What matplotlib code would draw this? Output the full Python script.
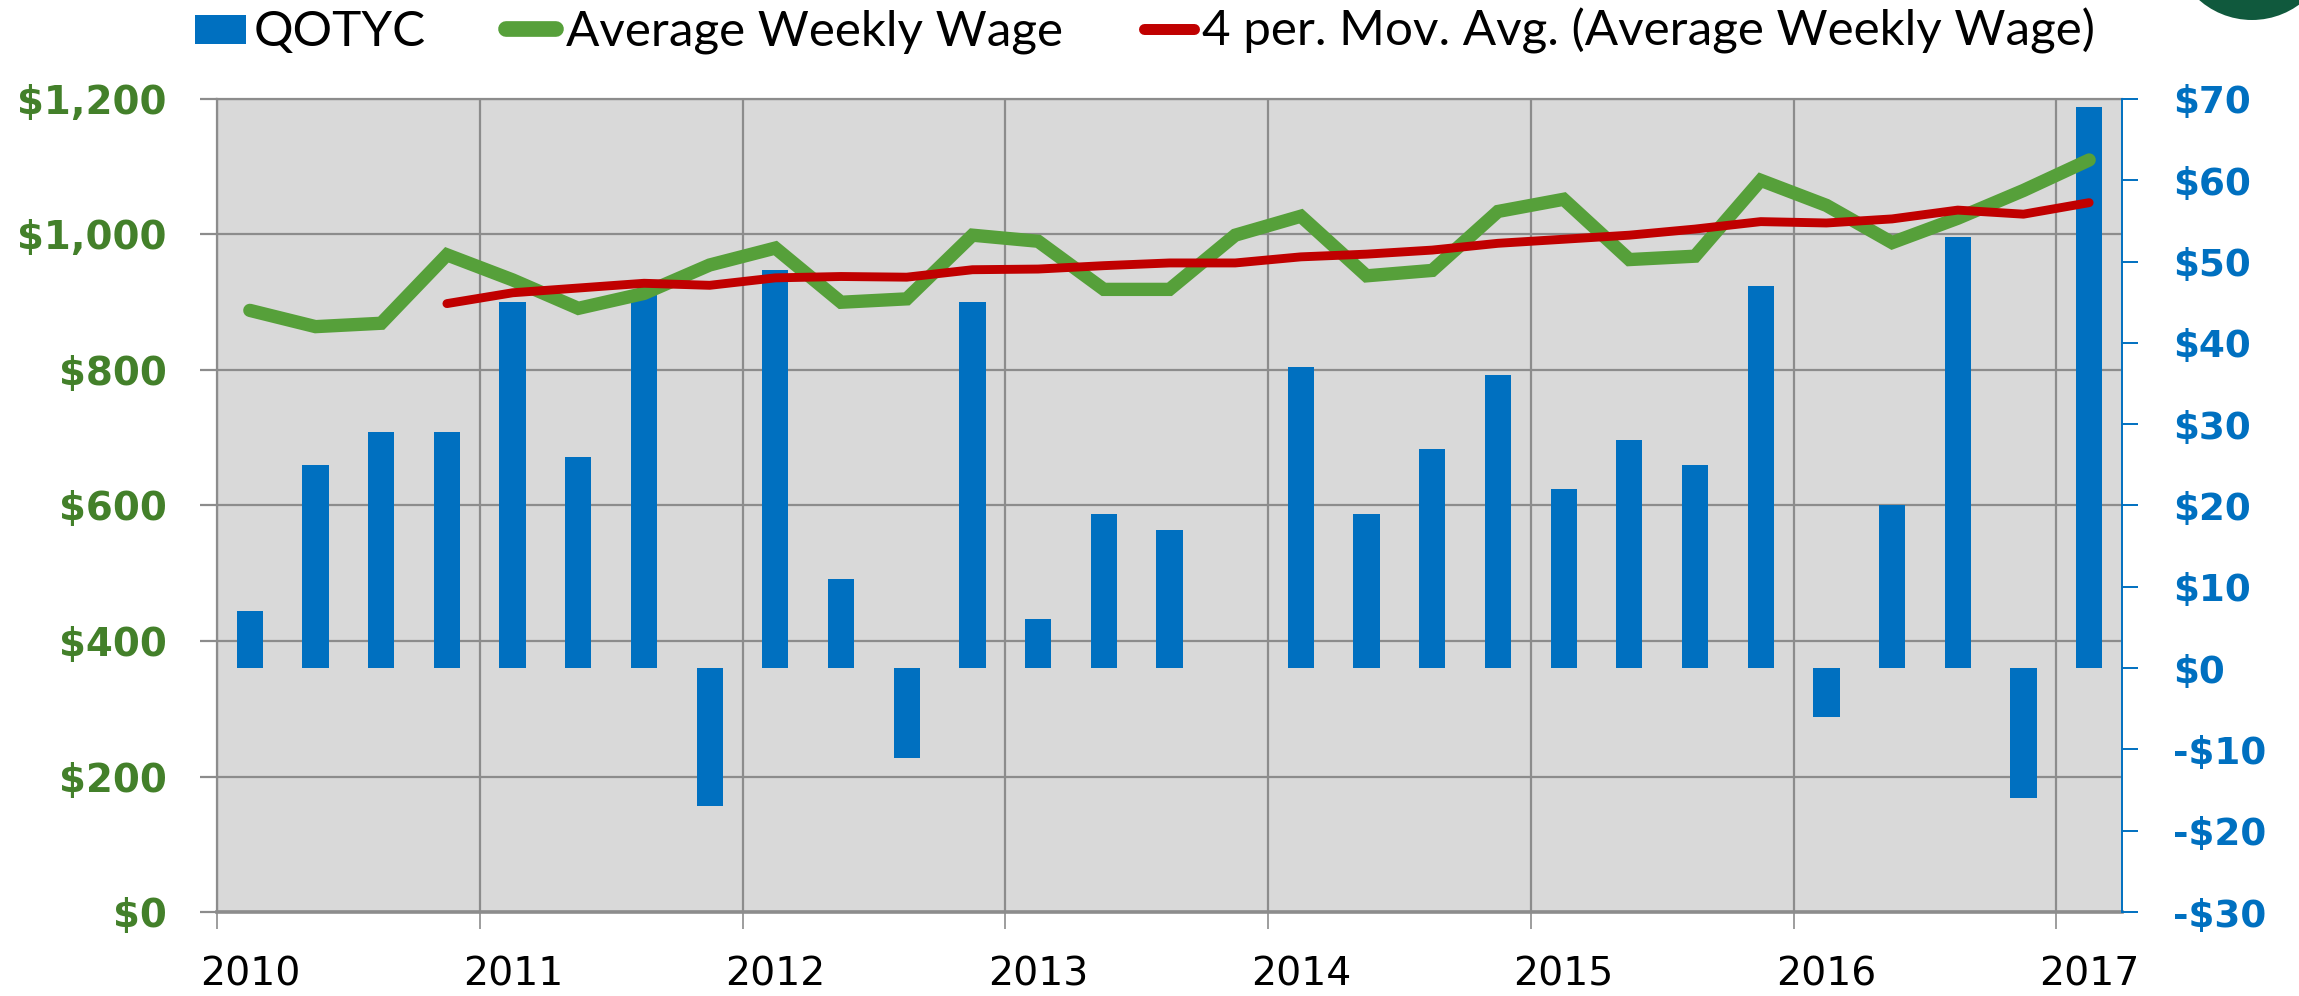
import matplotlib
matplotlib.use('Agg')
import matplotlib.pyplot as plt
from matplotlib.lines import Line2D
from matplotlib.patches import Rectangle, Ellipse
from matplotlib.transforms import ScaledTranslation
import numpy as np

plt.rcParams['text.parse_math'] = False
plt.rcParams['font.family'] = ['DejaVu Sans']

# ---------------- data ----------------
years = ['2010', '2011', '2012', '2013', '2014', '2015', '2016', '2017']
qotyc = [7, 25, 29, 29, 45, 26, 46, -17, 49, 11, -11, 45, 6, 19, 17, 0,
         37, 19, 27, 36, 22, 28, 25, 47, -6, 20, 53, -16, 69]
avg_wage = [888, 864, 869, 970, 933, 891, 913, 955, 980, 900, 905, 999, 990, 919,
            919, 999, 1027, 939, 947, 1034, 1052, 963, 968, 1080, 1043, 988, 1024,
            1065, 1110]
mov_avg = [np.nan, np.nan, np.nan, 898, 914, 921, 928, 925, 936, 938, 937, 948, 949,
           954, 958, 958, 967, 971, 977, 987, 993, 999, 1008, 1019, 1017, 1023,
           1036, 1030, 1047]
left_ticks = [0, 200, 400, 600, 800, 1000, 1200]
left_labels = ['$0', '$200', '$400', '$600', '$800', '$1,000', '$1,200']
right_ticks = [-30, -20, -10, 0, 10, 20, 30, 40, 50, 60, 70]
right_labels = ['-$30', '-$20', '-$10', '$0', '$10', '$20', '$30', '$40', '$50',
                '$60', '$70']
legend_labels = ['QOTYC', 'Average Weekly Wage',
                 '4 per. Mov. Avg. (Average Weekly Wage)']

# ---------------- style ----------------
BLUE = '#0070C0'
GREEN = '#56A03A'
RED = '#C00000'
GRID = '#8C8C8C'
BG = '#D9D9D9'
LGREEN = '#43802A'

W, H = 2299, 996
fig = plt.figure(figsize=(W / 100, H / 100), dpi=100)
renderer = fig.canvas.get_renderer()


def fit_size(s, target_px, **kw):
    t = fig.text(0, 0, s, fontsize=40, **kw)
    w = t.get_window_extent(renderer).width
    t.remove()
    return 40 * target_px / w


L, R, T, B = 217, 2122, 99, 912
pos = [L / W, 1 - B / H, (R - L) / W, (B - T) / H]

ax0 = fig.add_axes(pos, zorder=0)
ax2 = fig.add_axes(pos, zorder=1, sharex=ax0)
ax1 = fig.add_axes(pos, zorder=2, sharex=ax0)

x = np.arange(len(qotyc))

left_fs = fit_size('$1,200', 149, family='DejaVu Sans', fontweight='bold')
right_fs = fit_size('$70', 78, family='DejaVu Sans', fontweight='bold')
year_fs = fit_size('2010', 100, family='DejaVu Sans')

# background axes: grid, x ticks, left ticks
ax0.set_facecolor(BG)
ax0.set_ylim(0, 1200)
ax0.set_xlim(-0.5, len(qotyc) - 0.5)
ax0.set_yticks(left_ticks)
ax0.set_yticklabels(left_labels)
ax0.set_xticks(np.arange(-0.5, len(qotyc), 4))
ax0.set_xticklabels(years)
ax0.grid(True, color=GRID, linewidth=1.6)
ax0.set_axisbelow(True)
for s in ['top', 'left']:
    ax0.spines[s].set_color(GRID)
    ax0.spines[s].set_linewidth(1.6)
ax0.spines['bottom'].set_color(GRID)
ax0.spines['bottom'].set_linewidth(2.6)
ax0.spines['right'].set_visible(False)
ax0.tick_params(axis='x', direction='out', length=12.2, width=1.2, color=GRID,
                labelsize=year_fs, pad=19, labelcolor='black')
ax0.tick_params(axis='y', direction='out', length=12.2, width=1.6, color=GRID,
                labelsize=left_fs, pad=24, labelcolor=LGREEN)
for lab in ax0.get_yticklabels():
    lab.set_fontweight('bold')
shift = ScaledTranslation(0.33, 0, fig.dpi_scale_trans)
for lab in ax0.get_xticklabels():
    lab.set_transform(lab.get_transform() + shift)

# bars on right axis
ax2.patch.set_visible(False)
ax2.bar(x, qotyc, width=0.4, color=BLUE, zorder=3)
ax2.set_ylim(-30, 70)
ax2.yaxis.tick_right()
ax2.yaxis.set_label_position('right')
ax2.set_yticks(right_ticks)
ax2.set_yticklabels(right_labels)
for s in ['top', 'left', 'bottom']:
    ax2.spines[s].set_visible(False)
ax2.spines['right'].set_color(BLUE)
ax2.spines['right'].set_linewidth(1.4)
ax2.tick_params(axis='y', direction='out', length=11.5, width=1.4, color=BLUE,
                labelsize=right_fs, pad=25, labelcolor=BLUE)
ax2.tick_params(axis='x', bottom=False, labelbottom=False)
for lab in ax2.get_yticklabels():
    lab.set_fontweight('bold')

# lines on left axis
ax1.patch.set_visible(False)
ax1.plot(x, avg_wage, color=GREEN, linewidth=9.6, solid_capstyle='round',
         solid_joinstyle='miter', zorder=3)
ax1.plot(x, mov_avg, color=RED, linewidth=6.4, solid_capstyle='round',
         solid_joinstyle='round', zorder=4)
ax1.set_ylim(0, 1200)
for s in ax1.spines.values():
    s.set_visible(False)
ax1.tick_params(left=False, bottom=False, labelleft=False, labelbottom=False)

# legend (placed like the reference's legend row)
leg_fs = fit_size(legend_labels[2], 895, family='Lato')
fig.add_artist(Rectangle((195 / W, 1 - 44 / H), 51 / W, 29 / H,
                         transform=fig.transFigure, facecolor=BLUE,
                         edgecolor='none'))
fig.add_artist(Line2D([506 / W, 556 / W], [1 - 29.5 / H] * 2,
                      transform=fig.transFigure, color=GREEN, linewidth=11.3,
                      solid_capstyle='round'))
fig.add_artist(Line2D([1143.5 / W, 1193.5 / W], [1 - 29.5 / H] * 2,
                      transform=fig.transFigure, color=RED, linewidth=7.9,
                      solid_capstyle='round'))
for lx, lab in zip([254, 566, 1202], legend_labels):
    fig.text(lx / W, 1 - 46 / H, lab, family='Lato', fontsize=leg_fs,
             ha='left', va='baseline', color='black')

# partial logo circle at top-right
fig.add_artist(Ellipse((2252 / W, 1 + 60 / H), 160 / W, 160 / H,
                       transform=fig.transFigure, facecolor='#10593D',
                       edgecolor='none', clip_on=False))

fig.savefig('out.png', dpi=100)
